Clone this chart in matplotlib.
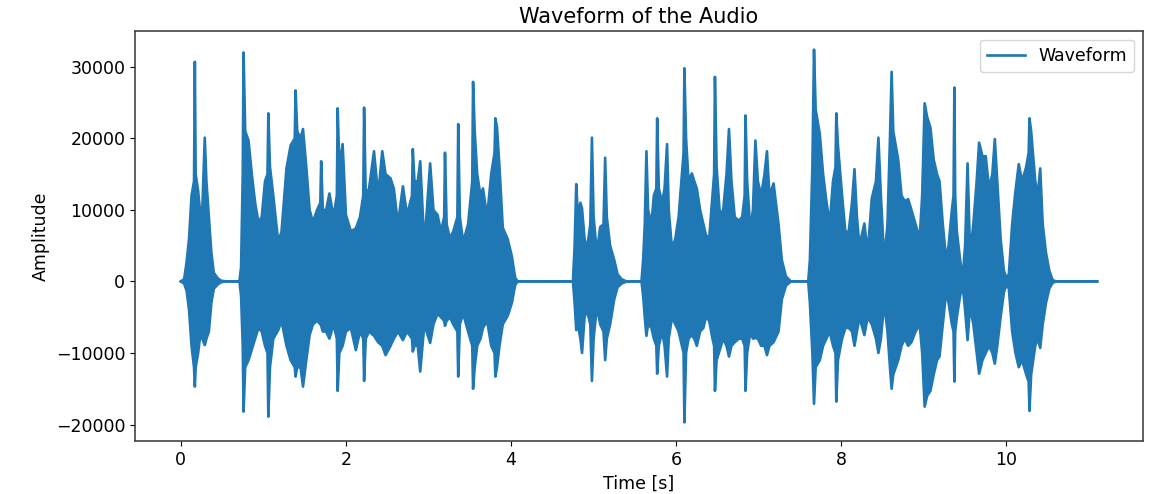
import matplotlib
matplotlib.use('Agg')
import matplotlib.pyplot as plt
import numpy as np

# envelope of the waveform (time in s, amplitude)
times = [
    0.00, 0.04, 0.07, 0.10, 0.13, 0.16, 0.17, 0.18, 0.21, 0.24, 0.26, 0.29, 0.31, 0.34,
    0.37, 0.40, 0.45, 0.49, 0.55, 0.71,
    0.73, 0.75, 0.76, 0.78, 0.82, 0.86, 0.90, 0.94, 0.98, 1.02, 1.05, 1.06, 1.08, 1.12,
    1.18, 1.22, 1.28, 1.33, 1.38, 1.39, 1.41, 1.45, 1.48, 1.52, 1.56, 1.60, 1.65, 1.69,
    1.70, 1.72, 1.76, 1.80, 1.85, 1.89, 1.90, 1.92, 1.96, 2.00, 2.06, 2.12, 2.17, 2.21,
    2.22, 2.24, 2.28, 2.34, 2.39, 2.44, 2.48, 2.54, 2.58, 2.63, 2.69, 2.74, 2.80, 2.81,
    2.83, 2.87, 2.90, 2.95, 3.02, 3.06, 3.11, 3.15, 3.19, 3.20, 3.22, 3.26, 3.30, 3.35,
    3.36, 3.38, 3.42, 3.48, 3.53, 3.54, 3.56, 3.59, 3.63, 3.66, 3.71, 3.76, 3.80, 3.81,
    3.83, 3.86, 3.90, 3.96, 4.01, 4.05, 4.08, 4.75,
    4.77, 4.79, 4.81, 4.84, 4.86, 4.89, 4.92, 4.96, 4.98, 5.00, 5.04, 5.08, 5.12, 5.14,
    5.16, 5.20, 5.25, 5.29, 5.34, 5.40, 5.58,
    5.60, 5.62, 5.64, 5.66, 5.70, 5.73, 5.76, 5.77, 5.79, 5.83, 5.86, 5.89, 5.91, 5.95,
    5.99, 6.03, 6.07, 6.09, 6.10, 6.12, 6.15, 6.19, 6.22, 6.25, 6.29, 6.33, 6.36, 6.40,
    6.44, 6.46, 6.47, 6.49, 6.53, 6.57, 6.61, 6.64, 6.67, 6.71, 6.76, 6.80, 6.83, 6.84,
    6.86, 6.90, 6.93, 6.96, 6.99, 7.03, 7.07, 7.10, 7.13, 7.18, 7.24, 7.28, 7.33, 7.39,
    7.60,
    7.62, 7.65, 7.67, 7.69, 7.74, 7.78, 7.82, 7.86, 7.90, 7.93, 7.94, 7.96, 8.01, 8.05,
    8.09, 8.13, 8.16, 8.19, 8.22, 8.28, 8.32, 8.37, 8.42, 8.45, 8.48, 8.52, 8.56, 8.59,
    8.61, 8.63, 8.69, 8.73, 8.77, 8.81, 8.85, 8.90, 8.95, 8.98, 9.01, 9.04, 9.08, 9.12,
    9.16, 9.19, 9.23, 9.27, 9.30, 9.34, 9.36, 9.37, 9.38, 9.40, 9.44, 9.47, 9.50, 9.53,
    9.56, 9.60, 9.64, 9.67, 9.71, 9.75, 9.79, 9.83, 9.86, 9.89, 9.93, 9.97, 10.00, 10.03,
    10.07, 10.11, 10.15, 10.19, 10.24, 10.27, 10.28, 10.30, 10.35, 10.38, 10.41, 10.44,
    10.48, 10.52, 10.56, 10.60, 11.10,
]
upper = [
    0, 300, 2700, 6000, 12000, 14000, 30700, 15000, 12600, 9000, 10000, 20100, 14000, 9000,
    4000, 1200, 400, 100, 0, 0,
    2000, 15000, 32000, 21000, 19700, 15000, 11000, 8300, 9000, 14000, 15000, 23500, 16000, 12000,
    5500, 7000, 15800, 19000, 20000, 26700, 21000, 20000, 21300, 16000, 10000, 8300, 10000, 11000,
    16800, 10000, 10000, 12300, 9000, 12000, 24200, 16000, 19200, 9300, 7000, 7400, 9000, 12000,
    24300, 12000, 13000, 18200, 12000, 18200, 15000, 14400, 13000, 8000, 13300, 9300, 12000, 18500,
    14000, 14000, 16800, 5000, 16500, 10000, 9300, 7000, 9000, 18000, 8000, 6000, 7000, 9000,
    22000, 9000, 5500, 8000, 14000, 27900, 21000, 15000, 12000, 13000, 9000, 15000, 18000, 22800,
    21500, 16000, 7500, 5900, 3500, 500, 0, 0,
    5000, 13600, 9000, 11000, 10200, 6000, 4500, 8000, 20100, 9000, 4000, 7600, 8000, 17300,
    9000, 5000, 3000, 1000, 300, 0, 0,
    3000, 8000, 18200, 10000, 8000, 12000, 13000, 22800, 13000, 11000, 13000, 19200, 10000, 4500,
    6000, 9000, 15000, 18000, 29800, 20000, 14000, 15100, 14000, 13000, 10000, 8000, 6500, 6000,
    12000, 15000, 28600, 16000, 9300, 10000, 15000, 21300, 14000, 9000, 8500, 9000, 12000, 23200,
    14000, 7000, 10000, 19700, 14000, 12000, 15000, 18200, 12000, 13700, 8000, 3000, 700, 0,
    0,
    3000, 16000, 32400, 24000, 20600, 15000, 11200, 8000, 14000, 16000, 23500, 19000, 12000, 6900,
    7000, 11000, 15700, 9000, 5000, 8100, 4000, 11600, 14000, 20100, 12000, 3000, 8000, 20000,
    29300, 21000, 17000, 12000, 11200, 11500, 10000, 8000, 6000, 12000, 24900, 23000, 21500, 17000,
    15000, 14000, 8000, 3100, 5000, 10000, 12000, 27100, 12000, 7000, 3000, 500, 5000, 16500,
    4000, 8000, 14000, 19400, 17500, 17500, 13000, 15000, 19900, 14000, 6000, 1500, 500, 1000,
    8000, 12600, 16400, 14000, 16000, 18000, 22800, 21000, 14000, 12000, 15800, 8000,
    4000, 1500, 200, 0, 0,
]
lower = [
    0, -300, -1300, -4000, -9000, -12000, -14700, -12000, -10000, -7000, -8000, -8900, -8000, -7000,
    -3000, -1000, -400, -100, 0, 0,
    -2000, -9000, -18200, -12000, -11000, -9500, -8000, -6500, -7000, -9000, -10000, -18900, -12000, -8000,
    -6800, -5500, -9000, -11000, -12000, -13300, -12000, -12000, -14700, -11000, -7500, -6000, -5500, -6000,
    -6200, -7000, -7000, -8000, -6000, -8000, -15300, -10000, -9000, -7000, -6500, -9600, -7000, -8000,
    -13900, -8000, -7000, -7600, -8500, -9000, -10300, -9000, -8000, -7000, -8200, -7000, -8000, -9800,
    -9000, -9000, -12600, -6000, -8600, -6000, -4500, -5000, -5500, -6200, -5500, -5000, -6000, -7000,
    -13300, -6000, -4500, -7000, -9000, -15000, -12000, -9000, -8000, -6500, -5500, -9000, -10000, -13300,
    -12000, -9000, -6000, -4800, -3000, -500, 0, 0,
    -3000, -6800, -6000, -8000, -10000, -5000, -4000, -6000, -13900, -8000, -3500, -6000, -7000, -11000,
    -8000, -6000, -2500, -800, -300, 0, 0,
    -2000, -5000, -7600, -6000, -6500, -8000, -9000, -12900, -9000, -7000, -9000, -13300, -8000, -5000,
    -6000, -7000, -9000, -10000, -19700, -10000, -8000, -7500, -8000, -9000, -7000, -6500, -5000, -5500,
    -8000, -9000, -15300, -11000, -9500, -8000, -9000, -10500, -9000, -8500, -8000, -8000, -9000, -15300,
    -10000, -7000, -8000, -7900, -8000, -9000, -9000, -10300, -9000, -8500, -7000, -2500, -600, 0,
    0,
    -3000, -10000, -17100, -12000, -11000, -9000, -8000, -7000, -9000, -10000, -16800, -11000, -8000, -6500,
    -6500, -7000, -9000, -7000, -5000, -7500, -5000, -6000, -8000, -10000, -8000, -3000, -7000, -12000,
    -15000, -13000, -11000, -9000, -8000, -9000, -8500, -7000, -6000, -10000, -17500, -16000, -15300, -13000,
    -11000, -10500, -6000, -1500, -3000, -6000, -7000, -14000, -7000, -5000, -2000, -500, -4000, -8200,
    -3500, -6000, -10000, -12900, -11000, -10000, -9000, -10000, -11500, -9000, -5000, -1500, -500, -1000,
    -7000, -10000, -12000, -11000, -13000, -14000, -18100, -13000, -9000, -8000, -9300, -6000,
    -3000, -1000, -200, 0, 0,
]

color = '#1f77b4'

fig = plt.figure(figsize=(11.62, 4.94), dpi=100)
ax = fig.add_axes([135 / 1162, 53 / 494, 1008 / 1162, 410 / 494])

ax.fill_between(times, lower, upper, color=color, linewidth=0)
ax.plot(times, upper, color=color, linewidth=1.9, label='Waveform')
ax.plot(times, lower, color=color, linewidth=1.9)

ax.set_title('Waveform of the Audio', fontsize=15)
ax.set_xlabel('Time [s]', fontsize=12.5)
ax.set_ylabel('Amplitude', fontsize=12.5)
ax.tick_params(labelsize=12.5)
ax.legend(loc='upper right', fontsize=12.5, handlelength=2.2)

for s in ax.spines.values():
    s.set_color('#444444')
    s.set_linewidth(1.2)

fig.savefig('out.png', dpi=100)
